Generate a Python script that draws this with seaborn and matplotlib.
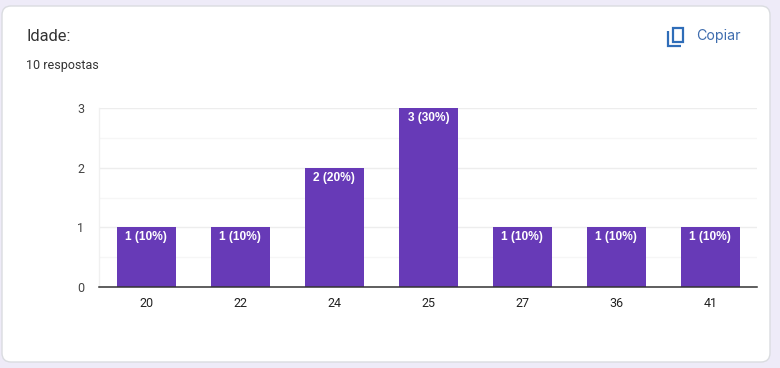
import matplotlib
matplotlib.use("Agg")
import matplotlib.pyplot as plt
import pandas as pd
import seaborn as sns
from matplotlib.patches import FancyBboxPatch, Rectangle

ages = ["20", "22", "24", "25", "27", "36", "41"]
counts = [1, 1, 2, 3, 1, 1, 1]
pct_labels = ["1 (10%)", "1 (10%)", "2 (20%)", "3 (30%)", "1 (10%)", "1 (10%)", "1 (10%)"]
y_ticks = [0, 1, 2, 3]
y_minor = [0.5, 1.5, 2.5]

W, H = 780, 368
BG = "#EEEBF8"
PURPLE = "#673AB7"
BLUE = "#2F6DB8"

sns.set_theme(style="white")
plt.rcParams["font.family"] = ["Roboto", "DejaVu Sans"]

fig = plt.figure(figsize=(W / 100, H / 100), dpi=100, facecolor=BG)

# background layer in pixel coordinates: card and copy icon
bg = fig.add_axes([0, 0, 1, 1], zorder=0)
bg.set_xlim(0, W)
bg.set_ylim(H, 0)
bg.axis("off")
bg.add_patch(FancyBboxPatch((2, 6), 768, 356, boxstyle="round,pad=0,rounding_size=9",
                            facecolor="white", edgecolor="#DADCE0", linewidth=1))

# copy icon
bg.add_patch(Rectangle((673, 27.5), 10, 14, facecolor="none", edgecolor=BLUE, linewidth=1.6))
bg.plot([668, 668, 681], [31, 45.5, 45.5], color=BLUE, linewidth=1.6, solid_capstyle="butt", solid_joinstyle="miter")
bg.text(696.5, 36, "Copiar", color="#3F6DAE", fontsize=10.2, family=["Inter", "DejaVu Sans"], va="center", ha="left")

bg.text(26, 36.5, "Idade:", color="#333333", fontsize=11.8, va="center", ha="left")
bg.text(26, 65.5, "10 respostas", color="#333333", fontsize=9, va="center", ha="left")

# chart
df = pd.DataFrame({"Idade": ages, "Respostas": counts})
ax = fig.add_axes([99.4 / W, 1 - 287 / H, 658 / W, 179 / H], zorder=1)
ax.patch.set_alpha(0)
sns.barplot(data=df, x="Idade", y="Respostas", color=PURPLE, saturation=1, width=0.625,
            linewidth=0, ax=ax, zorder=3)

ax.set_xlim(-0.5, len(ages) - 0.5)
ax.set_ylim(0, 3)
ax.set_yticks(y_ticks)
ax.set_yticks(y_minor, minor=True)
ax.grid(True, axis="y", which="major", color="#EDEDED", linewidth=1, zorder=0)
ax.grid(True, axis="y", which="minor", color="#F6F6F6", linewidth=1, zorder=0)
ax.set_axisbelow(True)
ax.set_xlabel("")
ax.set_ylabel("")

for side in ["top", "right"]:
    ax.spines[side].set_visible(False)
ax.spines["left"].set_color("#F0F0F0")
ax.spines["left"].set_linewidth(1)
ax.spines["bottom"].set_color("#333333")
ax.spines["bottom"].set_linewidth(1.1)
ax.spines["bottom"].set_zorder(5)

ax.tick_params(axis="x", which="major", length=0, pad=7, labelsize=9, labelcolor="#222222")
ax.tick_params(axis="y", which="major", length=0, pad=11, labelsize=9, labelcolor="#444444")
ax.tick_params(axis="y", which="minor", length=0)

ax.bar_label(ax.containers[0], labels=pct_labels, label_type="edge", padding=-11.5,
             color="white", fontsize=8.6, fontweight="bold", family=["Liberation Sans", "DejaVu Sans"])

fig.savefig("out.png", dpi=100, facecolor=BG)
